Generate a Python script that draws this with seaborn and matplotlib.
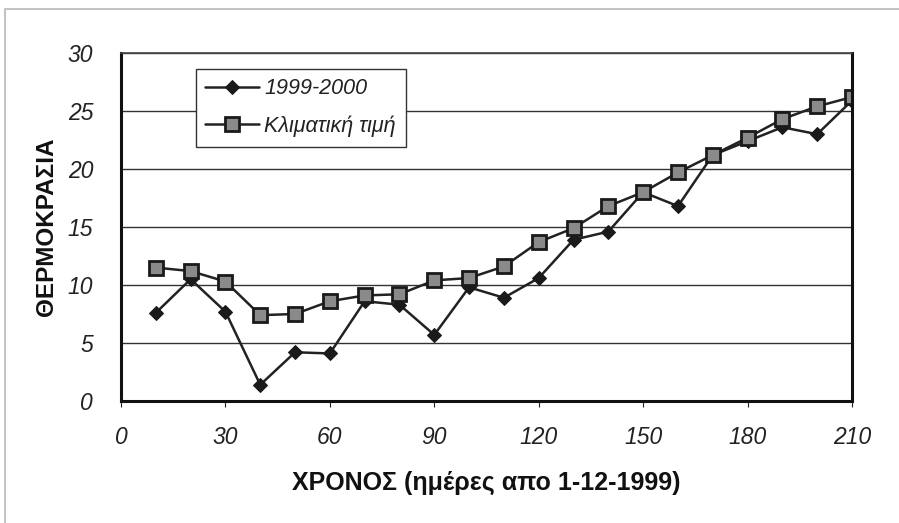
import matplotlib
matplotlib.use("Agg")
import matplotlib.pyplot as plt
from matplotlib.patches import Rectangle
import seaborn as sns
import pandas as pd

days = [10, 20, 30, 40, 50, 60, 70, 80, 90, 100, 110,
        120, 130, 140, 150, 160, 170, 180, 190, 200, 210]
temp_1999_2000 = [7.6, 10.5, 7.7, 1.4, 4.2, 4.1, 8.6, 8.3, 5.7, 9.8, 8.9,
                  10.6, 13.9, 14.6, 18.0, 16.8, 21.2, 22.4, 23.6, 23.0, 25.9]
temp_climate = [11.5, 11.2, 10.3, 7.4, 7.5, 8.6, 9.1, 9.2, 10.4, 10.6, 11.6,
                13.7, 14.9, 16.8, 18.0, 19.7, 21.2, 22.7, 24.3, 25.4, 26.2]
series_names = ["1999-2000", "Κλιματική τιμή"]
x_ticks = [0, 30, 60, 90, 120, 150, 180, 210]
y_ticks = [0, 5, 10, 15, 20, 25, 30]

df = pd.DataFrame({
    "day": days * 2,
    "temp": temp_1999_2000 + temp_climate,
    "series": [series_names[0]] * len(days) + [series_names[1]] * len(days),
})

sns.set_style("white")
plt.rcParams["font.family"] = ["Liberation Sans", "DejaVu Sans"]

fig = plt.figure(figsize=(8.99, 5.23), dpi=100)
fig.patches.append(Rectangle((5 / 899, -0.1), 2, 1.1 - 9 / 523,
                             transform=fig.transFigure, fill=False,
                             edgecolor="#b8b8b8", linewidth=1.2))
ax = fig.add_axes([121 / 899, 1 - 401 / 523, 731 / 899, 348 / 523])

sns.lineplot(data=df[df.series == series_names[0]], x="day", y="temp",
             ax=ax, color="#222222", linewidth=1.8, marker="D",
             markersize=7.5, markerfacecolor="#1a1a1a",
             markeredgecolor="#1a1a1a", label=series_names[0])
sns.lineplot(data=df[df.series == series_names[1]], x="day", y="temp",
             ax=ax, color="#222222", linewidth=1.8, marker="s",
             markersize=9.5, markerfacecolor="#8a8a8a",
             markeredgecolor="#1a1a1a", markeredgewidth=2.0,
             label=series_names[1])

ax.set_xlim(0, 210)
ax.set_ylim(0, 30)
ax.set_xticks(x_ticks)
ax.set_yticks(y_ticks)
ax.yaxis.grid(True, color="#333333", linewidth=1.0)
ax.xaxis.grid(False)
ax.tick_params(axis="both", labelsize=16.5, colors="#222222",
               length=4, width=0.8, direction="out")
ax.tick_params(axis="x", pad=14, bottom=True)
ax.tick_params(axis="y", pad=16, left=False)
for lab in ax.get_xticklabels() + ax.get_yticklabels():
    lab.set_fontstyle("italic")

for side in ["left", "bottom", "right"]:
    ax.spines[side].set_color("#111111")
    ax.spines[side].set_linewidth(2.2)
ax.spines["top"].set_color("#444444")
ax.spines["top"].set_linewidth(1.2)

ax.set_xlabel("ΧΡΟΝΟΣ (ημέρες απο 1-12-1999)", fontsize=18,
              fontweight="bold", labelpad=16, color="#111111")
ax.set_ylabel("ΘΕΡΜΟΚΡΑΣΙΑ", fontsize=17.5, fontweight="bold",
              labelpad=7, color="#111111")

leg = ax.legend(loc="upper left", bbox_to_anchor=(0.102, 0.955),
                frameon=True, fancybox=False, fontsize=15.5,
                handlelength=2.5, handletextpad=0.25,
                borderpad=0.45, labelspacing=0.75, borderaxespad=0)
leg.get_frame().set_edgecolor("#333333")
leg.get_frame().set_linewidth(1.0)
leg.get_frame().set_alpha(1)
for t in leg.get_texts():
    t.set_fontstyle("italic")
    t.set_color("#222222")

fig.savefig("out.png", dpi=100, facecolor="white")
